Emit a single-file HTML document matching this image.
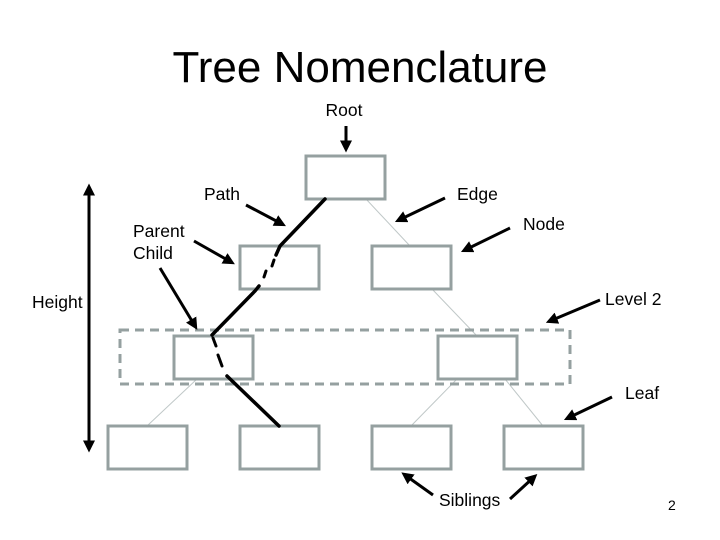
<!DOCTYPE html>
<html><head><style>
html,body{margin:0;padding:0;background:#fff;}
svg{display:block;}
text{font-family:"Liberation Sans",Arial,sans-serif;fill:#000;}
</style></head><body>
<svg width="720" height="540" viewBox="0 0 720 540" xmlns="http://www.w3.org/2000/svg">
<defs>
<marker id="ah" markerWidth="4" markerHeight="4" refX="2.5" refY="2" orient="auto" markerUnits="strokeWidth">
<path d="M0,0 L4,2 L0,4 z" fill="#000"/>
</marker>
</defs>
<text x="360" y="82" font-size="44" text-anchor="middle">Tree Nomenclature</text>
<g font-size="17.5">
<text x="344" y="116" text-anchor="middle">Root</text>
<text x="204" y="200">Path</text>
<text x="457" y="200">Edge</text>
<text x="523" y="230">Node</text>
<text x="133" y="237">Parent</text>
<text x="133" y="259">Child</text>
<text x="32" y="308">Height</text>
<text x="605" y="305">Level 2</text>
<text x="625" y="399">Leaf</text>
<text x="439" y="506">Siblings</text>
</g>
<text x="668" y="510" font-size="14">2</text>

<g stroke="#c0c8c8" stroke-width="1">
<line x1="366" y1="199" x2="410" y2="246"/>
<line x1="432" y1="289" x2="477" y2="336"/>
<line x1="197" y1="379" x2="147" y2="426"/>
<line x1="457" y1="379" x2="411" y2="426"/>
<line x1="505" y1="379" x2="543" y2="426"/>
</g>

<rect x="120" y="330" width="450" height="54" fill="none" stroke="#95a0a0" stroke-width="3" stroke-dasharray="9,6"/>

<g fill="#fff" stroke="#95a0a0" stroke-width="3">
<rect x="306" y="156" width="79" height="43"/>
<rect x="240" y="246" width="79" height="43"/>
<rect x="372" y="246" width="79" height="43"/>
<rect x="174" y="336" width="79" height="43"/>
<rect x="438" y="336" width="79" height="43"/>
<rect x="108" y="426" width="79" height="43"/>
<rect x="240" y="426" width="79" height="43"/>
<rect x="372" y="426" width="79" height="43"/>
<rect x="504" y="426" width="79" height="43"/>
</g>

<g stroke="#000" stroke-width="3.5" fill="none" stroke-linecap="round">
<polyline points="325,199 280,246 276,255"/>
<line x1="274" y1="260" x2="272" y2="266" stroke-width="3"/>
<line x1="266" y1="271" x2="264" y2="277" stroke-width="3"/>
<polyline points="259,286 255,291 212,335"/>
<line x1="213" y1="338" x2="216" y2="346" stroke-width="3"/>
<line x1="218" y1="355" x2="222" y2="366" stroke-width="3"/>
<line x1="227" y1="376" x2="279" y2="426"/>
</g>

<g stroke="#000" stroke-width="3" fill="none" marker-end="url(#ah)">
<line x1="346" y1="126" x2="346" y2="148"/>
<line x1="246" y1="205" x2="282" y2="224"/>
<line x1="445" y1="198" x2="399" y2="220"/>
<line x1="510" y1="228" x2="465" y2="250"/>
<line x1="194" y1="241" x2="231" y2="262"/>
<line x1="160" y1="268" x2="195" y2="326"/>
<line x1="600" y1="300" x2="550" y2="321"/>
<line x1="612" y1="397" x2="568" y2="418"/>
<line x1="433" y1="495" x2="405" y2="475"/>
<line x1="510" y1="499" x2="534" y2="477"/>
<line x1="89" y1="300" x2="89" y2="188"/>
<line x1="89" y1="300" x2="89" y2="448"/>
</g>
</svg>
</body></html>
